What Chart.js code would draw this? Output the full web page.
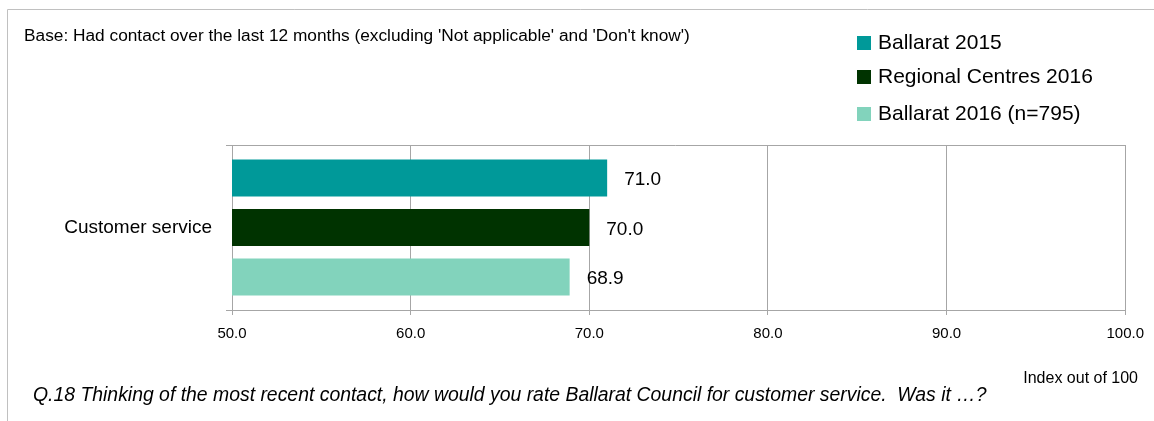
<!DOCTYPE html>
<html>
<head>
<meta charset="utf-8">
<script src="https://cdn.jsdelivr.net/npm/chart.js@4.4.0/dist/chart.umd.min.js"></script>
<style>
  html, body { margin: 0; padding: 0; background: #fff; }
  #wrap { position: relative; width: 1154px; height: 421px; }
</style>
</head>
<body>
<div id="wrap"><canvas id="chart" width="1154" height="421"></canvas></div>
<script>
// Data
const categories = ['Customer service'];
const seriesNames = ['Ballarat 2015', 'Regional Centres 2016', 'Ballarat 2016 (n=795)'];
const ballarat2015 = [71.0];
const regional2016 = [70.0];
const ballarat2016 = [68.9];
const xTicks = [50, 60, 70, 80, 90, 100];

const colours = ['#009999', '#003300', '#82d3bc'];
const FONT = "'Liberation Sans', Arial, sans-serif";

// Texte autour du graphique + étiquettes de valeurs + légende
const extrasPlugin = {
  id: 'extras',
  afterDraw(chart) {
    const ctx = chart.ctx;
    const area = chart.chartArea;
    ctx.save();

    // cadre extérieur (gauche + haut)
    ctx.strokeStyle = '#c0c0c0';
    ctx.lineWidth = 1;
    ctx.beginPath();
    ctx.moveTo(7.5, 421);
    ctx.lineTo(7.5, 9.5);
    ctx.lineTo(1154, 9.5);
    ctx.stroke();

    // bord supérieur de la zone de tracé
    ctx.strokeStyle = '#a6a6a6';
    ctx.beginPath();
    ctx.moveTo(area.left - 6, Math.round(area.top) + 0.5);
    ctx.lineTo(area.right, Math.round(area.top) + 0.5);
    ctx.stroke();

    ctx.fillStyle = '#000';
    ctx.textBaseline = 'middle';

    // titre
    ctx.font = '17.3px ' + FONT;
    ctx.textAlign = 'left';
    ctx.fillText("Base: Had contact over the last 12 months (excluding 'Not applicable' and 'Don't know')", 24, 36);

    // légende
    ctx.font = '21px ' + FONT;
    const rows = [43, 77, 114];
    chart.data.datasets.forEach((ds, i) => {
      ctx.fillStyle = ds.backgroundColor;
      ctx.fillRect(857, rows[i] - 7, 14, 14);
      ctx.fillStyle = '#000';
      ctx.fillText(ds.label, 878, rows[i]);
    });

    // étiquettes de valeurs
    ctx.font = '19px ' + FONT;
    chart.data.datasets.forEach((ds, i) => {
      chart.getDatasetMeta(i).data.forEach((bar, j) => {
        ctx.fillText(ds.data[j].toFixed(1), bar.x + 17, bar.y + 2);
      });
    });

    // axe + question
    ctx.font = '16px ' + FONT;
    ctx.textAlign = 'right';
    ctx.fillText('Index out of 100', 1138, 379);
    ctx.textAlign = 'left';
    ctx.font = 'italic 19.4px ' + FONT;
    ctx.fillText('Q.18 Thinking of the most recent contact, how would you rate Ballarat Council for customer service.  Was it \u2026?', 33, 396);

    ctx.restore();
  }
};

new Chart(document.getElementById('chart').getContext('2d'), {
  type: 'bar',
  data: {
    labels: categories,
    datasets: [
      { label: seriesNames[0], data: ballarat2015, backgroundColor: colours[0] },
      { label: seriesNames[1], data: regional2016, backgroundColor: colours[1] },
      { label: seriesNames[2], data: ballarat2016, backgroundColor: colours[2] },
    ],
  },
  options: {
    indexAxis: 'y',
    responsive: false,
    animation: false,
    categoryPercentage: 0.9,
    barPercentage: 0.75,
    layout: { padding: { left: 0, top: 145, right: 28, bottom: 71 } },
    plugins: {
      legend: { display: false },
      tooltip: { enabled: false },
    },
    scales: {
      x: {
        min: 50,
        max: 100,
        afterBuildTicks: (scale) => { scale.ticks = xTicks.map(v => ({ value: v })); },
        afterFit: (scale) => { scale.height = 40; },
        grid: { color: '#a6a6a6', tickLength: 5 },
        border: { color: '#a6a6a6' },
        ticks: {
          color: '#000',
          font: { family: FONT, size: 15 },
          padding: 10,
          callback: (v) => Number(v).toFixed(1),
        },
      },
      y: {
        afterFit: (scale) => { scale.width = 232; },
        grid: { drawOnChartArea: false, offset: true, tickLength: 6, color: '#a6a6a6' },
        border: { color: '#a6a6a6' },
        ticks: { color: '#000', font: { family: FONT, size: 19 }, padding: 14 },
      },
    },
  },
  plugins: [extrasPlugin],
});
</script>
</body>
</html>
